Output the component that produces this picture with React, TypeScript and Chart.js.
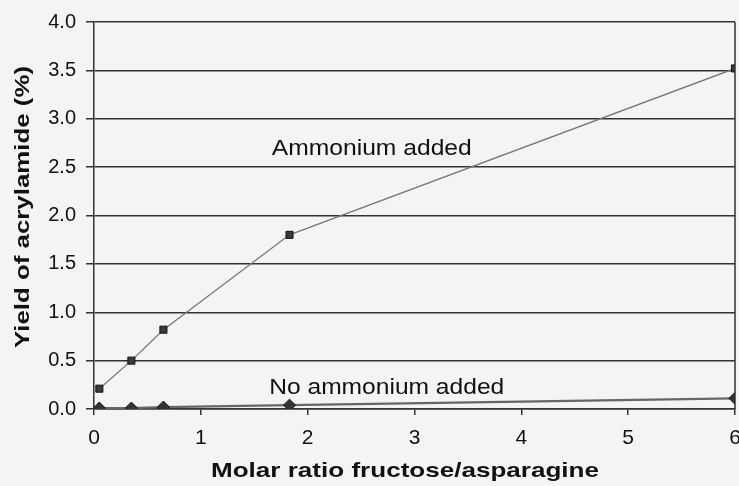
import React, { useEffect, useRef } from "react";
import { Chart, registerables } from "chart.js";

Chart.register(...registerables);

const ratios = [0.05, 0.35, 0.65, 1.83, 6];
const ammoniumAdded = [0.21, 0.5, 0.82, 1.8, 3.52];
const noAmmoniumAdded = [0.01, 0.01, 0.02, 0.04, 0.11];
const yTicks = [0, 0.5, 1, 1.5, 2, 2.5, 3, 3.5, 4];
const xTicks = [0, 1, 2, 3, 4, 5, 6];
const xTitle = "Molar ratio fructose/asparagine";
const yTitle = "Yield of acrylamide (%)";
const annotations = [
  { text: "Ammonium added", x: 2.6, y: 2.71 },
  { text: "No ammonium added", x: 2.74, y: 0.24 },
];

const FONT = "'Liberation Sans', Arial, Helvetica, sans-serif";

function drawStretched(
  ctx: CanvasRenderingContext2D,
  text: string,
  cx: number,
  cy: number,
  targetWidth: number,
  size: number,
  bold: boolean,
  rotate: boolean
) {
  ctx.save();
  ctx.font = `${bold ? "bold " : ""}${size}px ${FONT}`;
  const w = ctx.measureText(text).width;
  ctx.translate(cx, cy);
  if (rotate) ctx.rotate(-Math.PI / 2);
  ctx.scale(targetWidth / w, 1);
  ctx.textAlign = "center";
  ctx.textBaseline = "alphabetic";
  ctx.fillStyle = "#111";
  ctx.fillText(text, 0, rotate ? size * 0.26 : size * 0.358);
  ctx.restore();
}

const annotationWidths: Record<string, number> = {
  "Ammonium added": 200,
  "No ammonium added": 235,
};

const extras = {
  id: "extras",
  beforeDraw(chart: any) {
    const { ctx } = chart;
    ctx.save();
    ctx.fillStyle = "#f4f4f2";
    ctx.fillRect(0, 0, chart.width, chart.height);
    ctx.restore();
  },
  afterDraw(chart: any) {
    const { ctx, chartArea, scales } = chart;
    ctx.save();
    ctx.strokeStyle = "#333";
    ctx.lineWidth = 1.5;
    ctx.beginPath();
    ctx.moveTo(chartArea.right, chartArea.top);
    ctx.lineTo(chartArea.right, chartArea.bottom);
    ctx.stroke();
    ctx.restore();
    annotations.forEach((a) => {
      drawStretched(
        ctx,
        a.text,
        scales.x.getPixelForValue(a.x),
        scales.y.getPixelForValue(a.y),
        annotationWidths[a.text],
        22,
        false,
        false
      );
    });
    drawStretched(ctx, xTitle, 405, 469, 388, 21, true, false);
    drawStretched(ctx, yTitle, 24, 207, 282, 20, true, true);
  },
};

export default function App() {
  const ref = useRef<HTMLCanvasElement>(null);
  useEffect(() => {
    const chart = new Chart(ref.current!, {
      type: "line",
      data: {
        datasets: [
          {
            label: "Ammonium added",
            data: ratios.map((x, i) => ({ x, y: ammoniumAdded[i] })),
            borderColor: "#777",
            borderWidth: 1.3,
            pointStyle: "rect",
            pointRadius: 5,
            pointBackgroundColor: "#3a3a3a",
            pointBorderColor: "#111",
            pointBorderWidth: 1,
            tension: 0,
          },
          {
            label: "No ammonium added",
            data: ratios.map((x, i) => ({ x, y: noAmmoniumAdded[i] })),
            borderColor: "#666",
            borderWidth: 2.2,
            pointStyle: "rectRot",
            pointRadius: 6,
            pointBackgroundColor: "#333",
            pointBorderColor: "#111",
            pointBorderWidth: 1,
            tension: 0,
          },
        ],
      },
      options: {
        animation: false,
        responsive: false,
        devicePixelRatio: 1,
        layout: { padding: { top: 18, right: 25, left: 0, bottom: 0 } },
        plugins: { legend: { display: false }, tooltip: { enabled: false } },
        scales: {
          x: {
            type: "linear",
            min: 0,
            max: 6,
            afterBuildTicks: (s: any) => {
              s.ticks = xTicks.map((v) => ({ value: v }));
            },
            afterFit: (s: any) => {
              s.height = 77;
            },
            grid: {
              drawOnChartArea: false,
              drawTicks: true,
              tickLength: 6,
              color: "#333",
              lineWidth: 1.5,
            },
            border: { display: true, color: "#333", width: 1.5 },
            ticks: {
              font: { family: FONT, size: 21 },
              color: "#111",
              padding: 11,
              maxRotation: 0,
            },
            title: { display: false },
          },
          y: {
            type: "linear",
            min: 0,
            max: 4,
            afterBuildTicks: (s: any) => {
              s.ticks = yTicks.map((v) => ({ value: v }));
            },
            afterFit: (s: any) => {
              s.width = 94;
            },
            grid: {
              drawOnChartArea: true,
              drawTicks: true,
              tickLength: 8,
              color: "#333",
              lineWidth: 1.5,
            },
            border: { display: true, color: "#333", width: 1.5 },
            ticks: {
              font: { family: FONT, size: 20 },
              color: "#111",
              padding: 10,
              callback: (v: any) => Number(v).toFixed(1),
            },
            title: { display: false },
          },
        },
      },
      plugins: [extras],
    });
    return () => chart.destroy();
  }, []);
  return (
    <div
      style={{
        position: "fixed",
        left: 0,
        top: 0,
        width: 739,
        height: 486,
        overflow: "hidden",
        background: "#f4f4f2",
      }}
    >
      <canvas ref={ref} width={760} height={486} style={{ display: "block" }} />
    </div>
  );
}
